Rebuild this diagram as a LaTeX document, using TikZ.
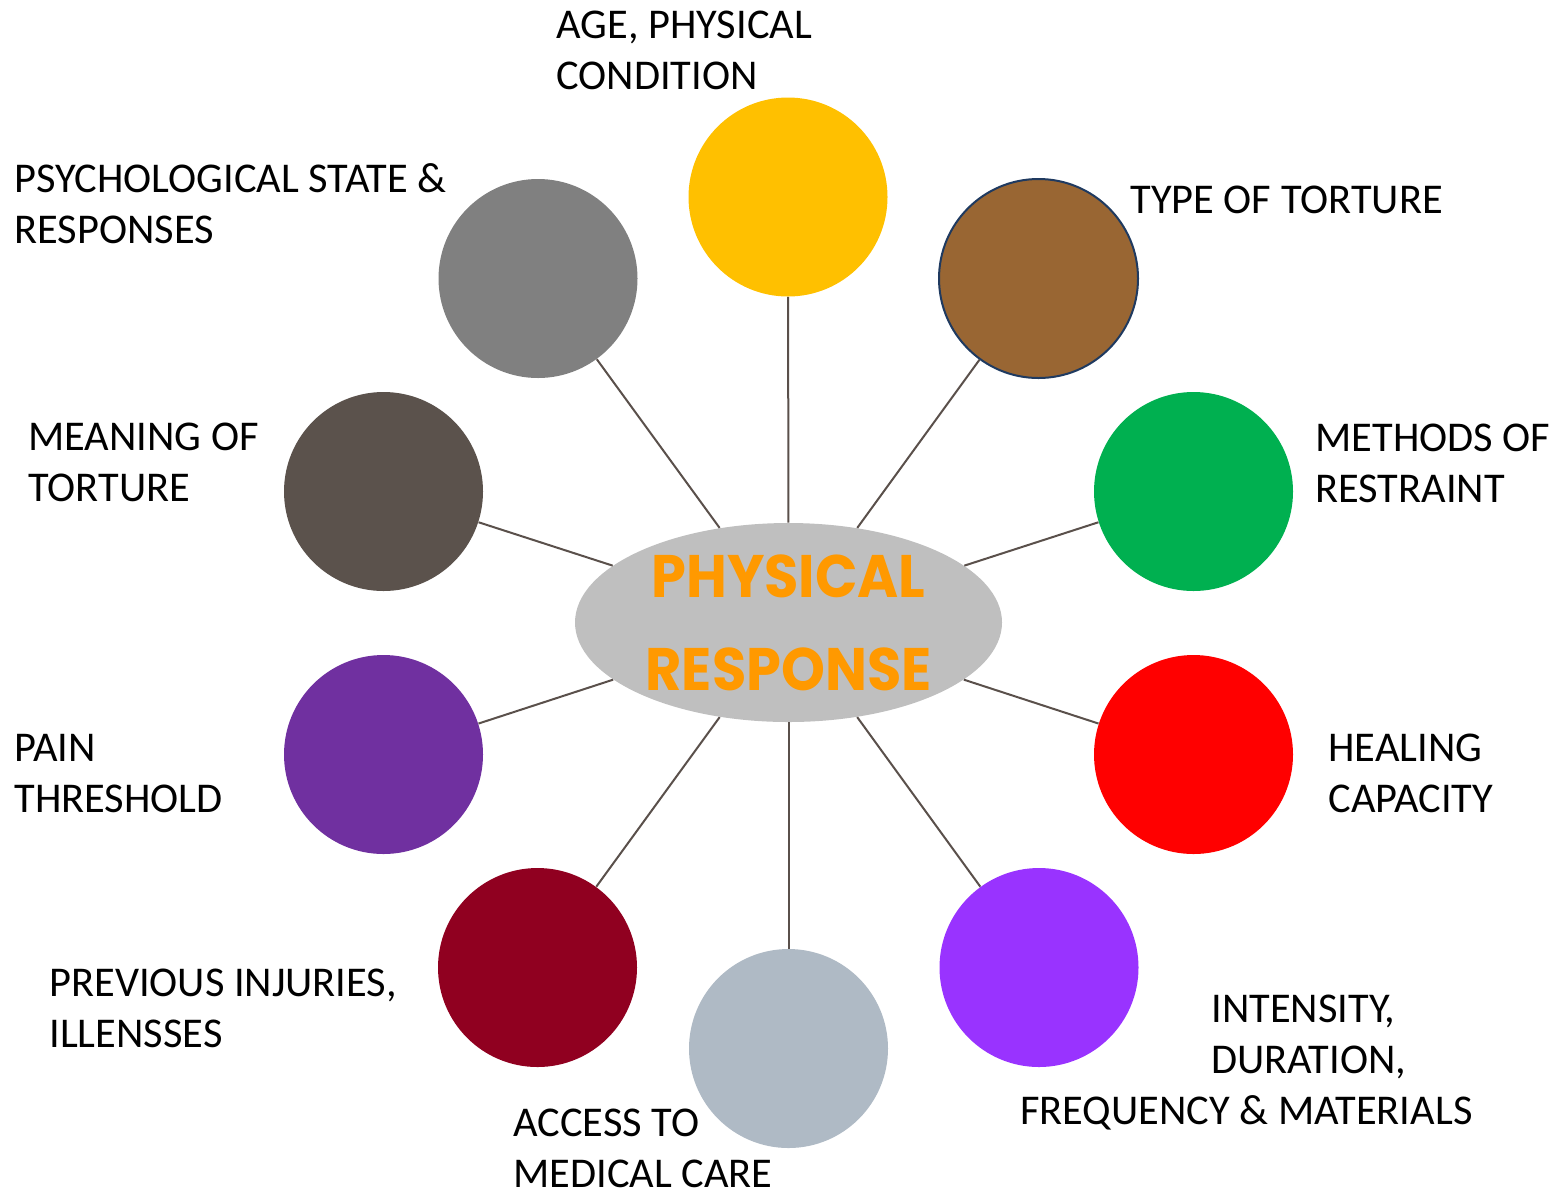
\documentclass[tikz,border=0pt]{standalone}
\usepackage{fontspec}
\setmainfont{Carlito}
\newfontfamily\hubfont[FakeStretch=0.93]{Poppins}
\usetikzlibrary{shapes.geometric}

\definecolor{hubgray}{HTML}{BFBFBF}
\definecolor{hubtext}{HTML}{FF9900}
\definecolor{spoke}{HTML}{5A504B}
\definecolor{cyellow}{HTML}{FFC000}
\definecolor{cbrown}{HTML}{996633}
\definecolor{cbrownedge}{HTML}{1F3A60}
\definecolor{cgreen}{HTML}{00B050}
\definecolor{cred}{HTML}{FF0000}
\definecolor{cviolet}{HTML}{9933FF}
\definecolor{cbluegray}{HTML}{AFBAC5}
\definecolor{cwine}{HTML}{900020}
\definecolor{cpurple}{HTML}{7030A0}
\definecolor{ctaupe}{HTML}{5B524C}
\definecolor{cgray}{HTML}{808080}

% left-aligned stack of lines whose baseline is that of the first line
\newcommand\leftlines[1]{\vtop{\halign{##\hfil\cr#1\crcr}}}
\newcommand\centerlines[1]{\vtop{\halign{\hfil##\hfil\cr#1\crcr}}}

\tikzset{
  factor/.style={circle, minimum size=99.5pt, inner sep=0pt, draw=none},
  caption/.style={anchor=base west, inner sep=0pt, text=black,
    font=\fontsize{21.2pt}{25.5pt}\selectfont},
  link/.style={draw=spoke, line width=1pt},
}

\begin{document}
\begin{tikzpicture}[x=0.5pt, y=-0.5pt]
\useasboundingbox (0,0) rectangle (1561,1190);

% central ellipse
\node[ellipse, fill=hubgray, minimum width=213.5pt, minimum height=99.5pt, inner sep=0pt]
  (hub) at (788.5,622.5) {};
\node[inner sep=0pt, text=hubtext, font=\hubfont\bfseries\fontsize{30pt}{46.5pt}\selectfont]
  (hubtitle) at (hub.center) {\centerlines{PHYSICAL\cr RESPONSE}};

% surrounding factors
\node[factor, fill=cyellow]   (age)       at (788,197)    {};
\node[factor, fill=cbrown, draw=cbrownedge, line width=1pt] (type) at (1038.5,278.5) {};
\node[factor, fill=cgreen]    (methods)   at (1193.5,491.5) {};
\node[factor, fill=cred]      (healing)   at (1193.5,754.5) {};
\node[factor, fill=cviolet]   (intensity) at (1039,967.5) {};
\node[factor, fill=cbluegray] (access)    at (788.5,1048.5) {};
\node[factor, fill=cwine]     (previous)  at (537.5,967.5) {};
\node[factor, fill=cpurple]   (pain)      at (383.5,754.5) {};
\node[factor, fill=ctaupe]    (meaning)   at (383.5,491.5) {};
\node[factor, fill=cgray]     (psych)     at (538,278.5)  {};

% spokes
\foreach \f in {age,type,methods,healing,intensity,access,previous,pain,meaning,psych}
  \draw[link] (hub) -- (\f);

% captions
\node[caption] (age-t)      at (556,38)    {\leftlines{AGE, PHYSICAL\cr CONDITION}};
\node[caption] (type-t)     at (1130,213)  {\leftlines{TYPE OF TORTURE}};
\node[caption] (psych-t)    at (14,192)    {\leftlines{PSYCHOLOGICAL STATE \&\cr RESPONSES}};
\node[caption] (meaning-t)  at (28,450)    {\leftlines{MEANING OF\cr TORTURE}};
\node[caption] (methods-t)  at (1315,451)  {\leftlines{METHODS OF\cr RESTRAINT}};
\node[caption] (pain-t)     at (14,761)    {\leftlines{PAIN\cr THRESHOLD}};
\node[caption] (healing-t)  at (1328,761)  {\leftlines{HEALING\cr CAPACITY}};
\node[caption] (previous-t) at (49,996)    {\leftlines{PREVIOUS INJURIES,\cr ILLENSSES}};
\node[caption] (intensity-t) at (1020,1022)
  {\leftlines{\hspace*{95.5pt}INTENSITY,\cr \hspace*{95.5pt}DURATION,\cr FREQUENCY \& MATERIALS}};
\node[caption] (access-t)   at (513,1136)  {\leftlines{ACCESS TO\cr MEDICAL CARE}};
\end{tikzpicture}
\end{document}
